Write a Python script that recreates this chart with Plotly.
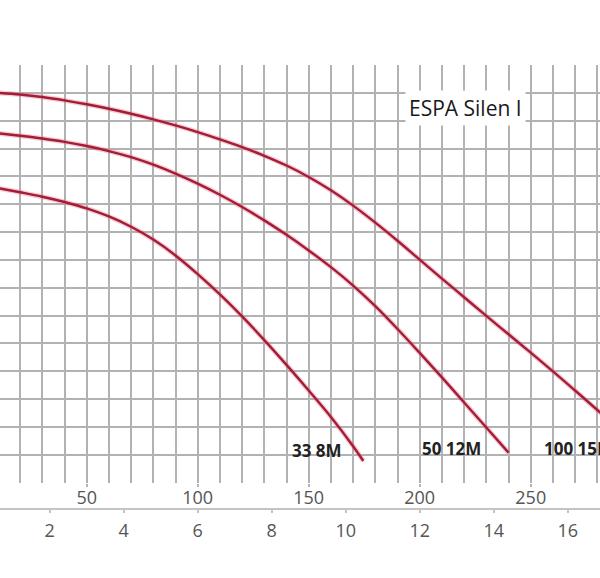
import plotly.graph_objects as go

# Flow (l/min) and head (m)
flow_100_15M = [10, 20, 30, 40, 50, 60, 70, 80, 90, 100, 110, 120, 130, 140, 150,
                160, 170, 180, 190, 200, 210, 220, 230, 240, 250, 260, 270, 280, 290]
head_100_15M = [14.00, 13.94, 13.85, 13.73, 13.59, 13.43, 13.25, 13.05, 12.83, 12.59,
                12.33, 12.05, 11.74, 11.39, 10.98, 10.50, 9.95, 9.34, 8.69, 8.01,
                7.33, 6.66, 5.99, 5.33, 4.67, 4.00, 3.31, 2.61, 1.90]

flow_50_12M = [10, 20, 30, 40, 50, 60, 70, 80, 90, 100, 110, 120, 130, 140, 150,
               160, 170, 180, 190, 200, 210, 220, 230, 240]
head_50_12M = [12.55, 12.46, 12.36, 12.24, 12.09, 11.91, 11.69, 11.42, 11.10, 10.74,
               10.34, 9.90, 9.42, 8.90, 8.34, 7.74, 7.08, 6.34, 5.52, 4.66,
               3.78, 2.88, 1.98, 1.08]

flow_33_8M = [10, 20, 30, 40, 50, 60, 70, 80, 90, 100, 110, 120, 130, 140, 150,
              160, 170, 174.6]
head_33_8M = [10.58, 10.43, 10.27, 10.08, 9.85, 9.56, 9.19, 8.73, 8.16, 7.49,
              6.76, 5.97, 5.12, 4.23, 3.31, 2.36, 1.31, 0.78]

curve_names = ["33 8M", "50 12M", "100 15M"]
top_ticks = [50, 100, 150, 200, 250]          # l/min
bottom_ticks = [2, 4, 6, 8, 10, 12, 14, 16]   # m3/h
LPM_PER_M3H = 1000 / 60

x_range = [10.95, 281.2]
y_range = [0, 15]

GRID = "#b2b2b2"
RED = "#a51c37"
HALO = "rgba(225,110,135,0.35)"

fig = go.Figure()
for fx, hy in [(flow_33_8M, head_33_8M), (flow_50_12M, head_50_12M), (flow_100_15M, head_100_15M)]:
    fig.add_trace(go.Scatter(x=fx, y=hy, mode="lines", line=dict(color=HALO, width=5, shape="spline"),
                             hoverinfo="skip", showlegend=False, cliponaxis=True))
    fig.add_trace(go.Scatter(x=fx, y=hy, mode="lines", line=dict(color=RED, width=2.4, shape="spline"),
                             showlegend=False, cliponaxis=True))

# invisible trace to activate second x axis
fig.add_trace(go.Scatter(x=[x_range[0] / LPM_PER_M3H], y=[5], xaxis="x2", mode="markers",
                         marker=dict(opacity=0), showlegend=False, hoverinfo="skip"))

label_font = dict(family="Open Sans", size=17, color="#222222")
fig.add_annotation(x=153.6, y=1.14, text="<b>" + curve_names[0] + "</b>", showarrow=False,
                   xanchor="center", yanchor="middle", font=label_font)
fig.add_annotation(x=214.1, y=1.21, text="<b>" + curve_names[1] + "</b>", showarrow=False,
                   xanchor="center", yanchor="middle", font=label_font)
fig.add_annotation(x=254.9, y=1.21, text="<b>" + curve_names[2] + "</b>", showarrow=False,
                   xanchor="left", yanchor="middle", font=label_font)
fig.add_annotation(x=220.8, y=13.44, text="ESPA Silen I", showarrow=False,
                   xanchor="center", yanchor="middle", bgcolor="white", borderpad=3,
                   font=dict(family="Open Sans", size=21, color="#1a1a1a"))

tick_font = dict(family="Open Sans", size=18, color="#555555")
fig.update_layout(
    width=600, height=578,
    margin=dict(l=0, r=0, t=65, b=0, pad=0),
    paper_bgcolor="white", plot_bgcolor="white",
    showlegend=False,
    xaxis=dict(range=x_range, tickmode="array", tickvals=top_ticks,
               showgrid=True, gridcolor=GRID, gridwidth=1.5,
               ticks="outside", ticklen=3, tickcolor=GRID, tickwidth=1.5,
               tickfont=tick_font, zeroline=False, showline=False,
               ticklabelstandoff=-4,
               minor=dict(tickmode="linear", tick0=0, dtick=10, showgrid=True,
                          gridcolor=GRID, gridwidth=1.5, ticks=""),
               anchor="y"),
    xaxis2=dict(range=[x_range[0] / LPM_PER_M3H, x_range[1] / LPM_PER_M3H],
                overlaying="x", anchor="free", position=0.1339, side="bottom",
                tickmode="array", tickvals=bottom_ticks, showgrid=False,
                showline=True, linecolor="#c4c4c4", linewidth=2,
                ticks="outside", ticklen=3, tickcolor="#c4c4c4", tickwidth=1.5,
                tickfont=tick_font, zeroline=False, ticklabelstandoff=2),
    yaxis=dict(range=y_range, domain=[0.1858, 1], dtick=1, tick0=0,
               showgrid=True, gridcolor=GRID, gridwidth=1.5,
               showticklabels=False, zeroline=False, showline=False, ticks=""),
)

fig.write_html("out.html", config={"displayModeBar": False},
               post_script="document.body.style.margin='0';")
